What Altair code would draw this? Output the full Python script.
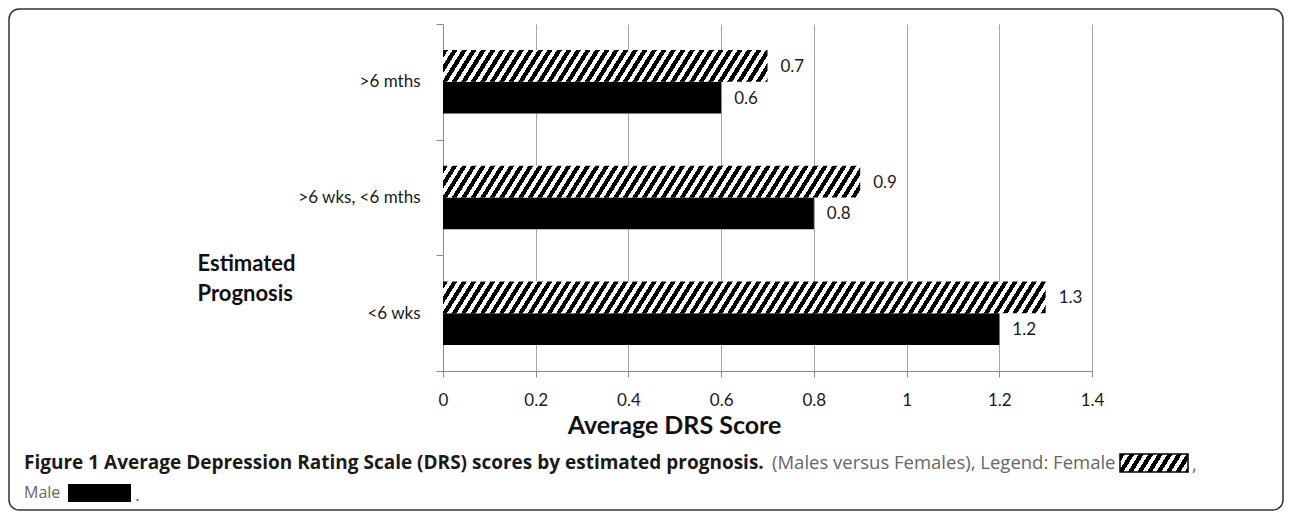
import altair as alt
import pandas as pd

# ---------------- data ----------------
categories = [">6 mths", ">6 wks, <6 mths", "<6 wks"]
genders = ["Female", "Male"]
female_scores = [0.7, 0.9, 1.3]
male_scores = [0.6, 0.8, 1.2]
x_ticks = [0, 0.2, 0.4, 0.6, 0.8, 1.0, 1.2, 1.4]

y_title = ["Estimated", "Prognosis"]
x_title = "Average DRS Score"
caption_bold = "Figure 1 Average Depression Rating Scale (DRS) scores by estimated prognosis."
caption_normal = "(Males versus Females), Legend: Female"
caption_comma = ","
caption_male = "Male"
caption_end = "."

rows = []
for c, f, m in zip(categories, female_scores, male_scores):
    rows.append({"category": c, "gender": "Female", "value": f})
    rows.append({"category": c, "gender": "Male", "value": m})
df = pd.DataFrame(rows)

# ---------------- layout ----------------
W_PLOT = 649
H_PLOT = 347
X_MAX = 1.4
PAD_OUTER = 0.82
SUB_H = (H_PLOT / len(categories)) / (2 + 2 * PAD_OUTER)

FONT = "Lato"
CAP_FONT = "Open Sans"


def hatch_fill(w, h, period=9.5, slope=1.6, frac=0.52, fg="#000000", bg="#ffffff"):
    span = slope * w + h
    k = span / (slope ** 2 * w ** 2 + h ** 2)
    x2 = k * slope * w
    y2 = k * h
    p = slope * period / span
    stops = []
    t = 0.0
    while t < 1:
        a = t
        b = min(t + frac * p, 1.0)
        c = min(t + p, 1.0)
        stops += [(a, fg), (b, fg), (b, bg), (c, bg)]
        t += p
    return {
        "gradient": "linear",
        "x1": 0, "y1": 0, "x2": x2, "y2": y2,
        "stops": [{"offset": round(o, 5), "color": col} for o, col in stops],
    }


x_enc = alt.X(
    "value:Q",
    scale=alt.Scale(domain=[0, X_MAX], nice=False, zero=True),
    axis=alt.Axis(
        values=x_ticks, format=".1~f", grid=True, gridColor="#a6a6a6", gridWidth=1,
        domainColor="#8c8c8c", tickColor="#8c8c8c", tickSize=6,
        labelFont=FONT, labelFontSize=17, labelColor="#1a1a1a", labelPadding=15,
        labelFlush=False, labelOverlap=False,
        title=x_title, titleFont=FONT, titleFontSize=25, titleFontWeight="bold",
        titleColor="#111111", titleX=231, titleY=62, titleAlign="center",
        titleBaseline="alphabetic",
    ),
)
y_enc = alt.Y(
    "category:N",
    scale=alt.Scale(domain=categories, paddingInner=0, paddingOuter=0),
    axis=alt.Axis(
        tickBand="extent", grid=False,
        domainColor="#8c8c8c", tickColor="#8c8c8c", tickSize=7,
        labelFont=FONT, labelFontSize=17, labelColor="#1a1a1a", labelPadding=16,
        title=y_title, titleAngle=0, titleX=-246, titleY=229, titleAlign="left",
        titleBaseline="top", titleFont=FONT, titleFontSize=22, titleFontWeight="bold",
        titleColor="#111111", titleLineHeight=30,
    ),
)
yo_enc = alt.YOffset(
    "gender:N",
    scale=alt.Scale(domain=genders, paddingInner=0, paddingOuter=PAD_OUTER),
)

base = alt.Chart(df)

male_bars = base.transform_filter(alt.datum.gender == "Male").mark_bar(
    color="#000000"
).encode(x=x_enc, y=y_enc, yOffset=yo_enc)

female_layers = []
for c, f in zip(categories, female_scores):
    w_px = f * W_PLOT / X_MAX
    layer = base.transform_filter(
        (alt.datum.gender == "Female") & (alt.datum.category == c)
    ).mark_bar(fill=hatch_fill(w_px, SUB_H)).encode(x=x_enc, y=y_enc, yOffset=yo_enc)
    female_layers.append(layer)

labels = base.mark_text(
    align="left", baseline="middle", dx=13, dy=1, font=FONT, fontSize=17, color="#1a1a1a"
).encode(x=x_enc, y=y_enc, yOffset=yo_enc, text=alt.Text("value:Q", format=".1f"))

# ---------------- caption & frame ----------------
one = pd.DataFrame({"t": [""]})

frame = alt.Chart(one).mark_rect(
    fill="#ffffff", fillOpacity=0, stroke="#333333", strokeWidth=1.5, cornerRadius=10
).encode(x=alt.value(-434), x2=alt.value(840), y=alt.value(-15), y2=alt.value(486))


def cap_text(txt, x, y, size, bold=False, color="#666666"):
    return alt.Chart(pd.DataFrame({"t": [txt]})).mark_text(
        align="left", baseline="middle", font=CAP_FONT, fontSize=size,
        fontWeight="bold" if bold else "normal", color=color,
    ).encode(text="t:N", x=alt.value(x), y=alt.value(y))


cap1 = cap_text(caption_bold, -419, 439, 19, bold=True, color="#1a1a1a")
cap2 = cap_text(caption_normal, 329, 439, 18.5)
cap3 = cap_text(caption_comma, 749, 441, 18.5)
cap4 = cap_text(caption_male, -419, 469, 16)
cap5 = cap_text(caption_end, -308, 471, 18.5)

swatch_f = alt.Chart(one).mark_rect(
    fill=hatch_fill(68, 18, period=9.5), stroke="#000000", strokeWidth=1.5
).encode(x=alt.value(677), x2=alt.value(745), y=alt.value(430), y2=alt.value(448))
swatch_m = alt.Chart(one).mark_rect(color="#000000").encode(
    x=alt.value(-375), x2=alt.value(-312), y=alt.value(460), y2=alt.value(478)
)

chart = alt.layer(
    frame, male_bars, *female_layers, labels,
    cap1, cap2, cap3, cap4, cap5, swatch_f, swatch_m,
).properties(
    width=W_PLOT, height=H_PLOT,
    autosize=alt.AutoSizeParams(type="none"),
    padding={"left": 435, "top": 16, "right": 192, "bottom": 142},
    background="#ffffff",
).configure_view(strokeWidth=0)

chart.save("out.html", embed_options={"renderer": "svg", "actions": False})
